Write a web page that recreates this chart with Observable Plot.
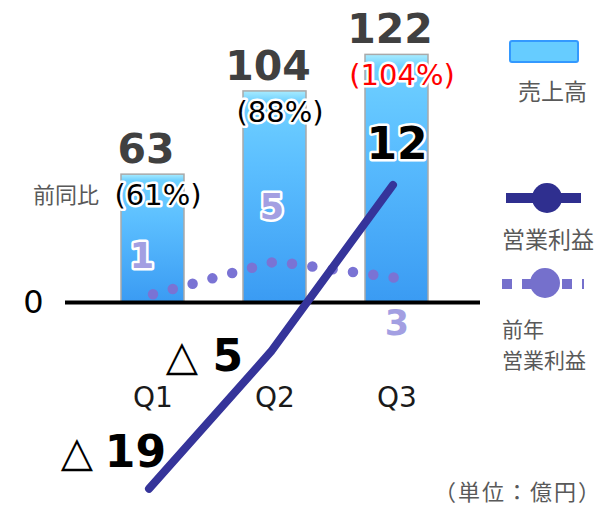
<!DOCTYPE html>
<html>
<head>
<meta charset="utf-8">
<script src="https://cdn.jsdelivr.net/npm/d3@7"></script>
<script src="https://cdn.jsdelivr.net/npm/@observablehq/plot@0.6"></script>
<style>
  body { margin: 0; background: #fff; }
  #wrap { position: relative; width: 607px; height: 507px; overflow: hidden; }
  #wrap svg { display: block; }
  .legtxt { position: absolute; font-family: "Noto Sans CJK JP", sans-serif; font-size: 23px;
            color: #595959; line-height: 26px; white-space: nowrap; }
</style>
</head>
<body>
<div id="wrap"></div>
<script>
// ---- data ----
const quarters = ["Q1", "Q2", "Q3"];
const sales = [63, 104, 122];          // 売上高 (億円)
const salesYoY = [61, 88, 104];        // 前同比 (%)
const profit = [-19, -5, 12];          // 営業利益 (億円)
const prevProfit = [1, 5, 3];          // 前年営業利益 (億円)

const legendSales = "売上高";
const legendProfit = "営業利益";
const legendPrev = ["前年", "営業利益"];
const unitLabel = "（単位：億円）";
const yoyLabel = "前同比";

// profit lines are drawn on their own (secondary) scale, expressed in sales units
const PROFIT_K = 4.83;
const PREV_K = 4.04;

const rows = quarters.map((q, i) => ({
  q, sales: sales[i], yoy: salesYoY[i], profit: profit[i], prev: prevProfit[i]
}));

const latin = "DejaVu Sans, Verdana, sans-serif";
const cjk = "Noto Sans CJK JP, sans-serif";
const halo = {stroke: "white", strokeWidth: 5, paintOrder: "stroke", strokeLinejoin: "round"};

const negLabel = (d, dxNum, dxTri, dy) => [
  Plot.text([d], {x: "q", y: r => r.profit * PROFIT_K, text: r => String(Math.abs(r.profit)),
    textAnchor: "end", dx: dxNum, dy, fontSize: 44, fontWeight: "bold", fill: "#000",
    fontFamily: latin, ...halo}),
  Plot.text([d], {x: "q", y: r => r.profit * PROFIT_K, text: () => "△",
    textAnchor: "end", dx: dxTri, dy, fontSize: 42, fill: "#000", fontFamily: latin, ...halo})
];

const prevLabel = (d, dx, dy) =>
  Plot.text([d], {x: "q", y: r => r.prev * PREV_K, text: r => String(r.prev), dx, dy,
    fontSize: 35, fontWeight: "bold", fill: "#a39fe2", fontFamily: latin, ...halo});

const plot = Plot.plot({
  width: 607,
  height: 507,
  marginLeft: 65,
  marginRight: 127,
  marginTop: 0,
  marginBottom: 0,
  x: {type: "band", domain: quarters, paddingInner: 0.48, paddingOuter: 0.427, align: 0.52, axis: null},
  y: {domain: [-101, 148.8], axis: null},
  color: {type: "identity"},
  style: {fontFamily: latin, background: "white", overflow: "visible"},
  marks: [
    Plot.barY(rows, {x: "q", y: "sales", fill: "url(#barGrad)", stroke: "#a9a9a9", strokeWidth: 1.5}),
    Plot.ruleY([0], {stroke: "#000", strokeWidth: 4}),
    Plot.line(rows, {x: "q", y: d => d.prev * PREV_K, stroke: "#7a73d4", strokeWidth: 10.5,
      strokeDasharray: "0 20.5", strokeLinecap: "round"}),
    Plot.line(rows, {x: "q", y: d => d.profit * PROFIT_K, stroke: "#35349a", strokeWidth: 8,
      strokeLinecap: "round", strokeLinejoin: "round", dx: -4}),
    // sales values
    Plot.text(rows, {x: "q", y: "sales", text: d => String(d.sales), dx: -7, dy: -25,
      fontSize: 41, fontWeight: "bold", fill: "#404040", fontFamily: latin, ...halo}),
    // year-on-year %
    Plot.text(rows, {x: "q", y: "sales", text: d => `(${d.yoy}%)`, dx: 5, dy: 21,
      fontSize: 29, fill: d => d.yoy >= 100 ? "#ff0000" : "#000000", fontFamily: latin, ...halo}),
    Plot.text([rows[0]], {x: "q", y: "sales", text: () => yoyLabel, textAnchor: "end", dx: -54, dy: 21,
      fontSize: 22, fill: "#595959", fontFamily: cjk}),
    // quarter labels
    Plot.text(quarters, {x: d => d, frameAnchor: "bottom", dy: -101, fontSize: 28, fill: "#1a1a1a", fontFamily: latin}),
    // zero label
    Plot.text([0], {y: d => d, text: d => String(d), frameAnchor: "left", textAnchor: "end", dx: -22,
      fontSize: 32, fill: "#000", fontFamily: latin}),
    // profit labels
    Plot.text(rows.filter(d => d.profit > 0), {x: "q", y: d => d.profit * PROFIT_K, text: d => String(d.profit),
      dy: -40, fontSize: 44, fontWeight: "bold", fill: "#000", fontFamily: latin, ...halo}),
    ...negLabel(rows[0], 13, -60, -36),
    ...negLabel(rows[1], -32, -77, 5),
    // previous-year profit labels
    prevLabel(rows[0], -11, -38),
    prevLabel(rows[1], -3, -54),
    prevLabel(rows[2], 0, 46)
  ]
});

// bar gradient
const svg = d3.select(plot);
const defs = svg.insert("defs", ":first-child");
const grad = defs.append("linearGradient").attr("id", "barGrad")
  .attr("x1", 0).attr("y1", 0).attr("x2", 0).attr("y2", 1);
[[0, "#a8ecff"], [0.05, "#6fd0ff"], [0.35, "#5cbfff"], [1, "#3a9bf3"]].forEach(([o, c]) =>
  grad.append("stop").attr("offset", o).attr("stop-color", c));

const wrap = document.getElementById("wrap");
wrap.appendChild(plot);

// legend (drawn beside the plot)
const leg = d3.select(wrap).append("svg")
  .attr("width", 607).attr("height", 507)
  .style("position", "absolute").style("left", "0px").style("top", "0px")
  .style("pointer-events", "none");

leg.append("rect").attr("x", 510).attr("y", 41).attr("width", 68).attr("height", 21).attr("rx", 2)
  .attr("fill", "#66ccff").attr("stroke", "#3399ff").attr("stroke-width", 2);
leg.append("line").attr("x1", 506).attr("x2", 581).attr("y1", 198).attr("y2", 198)
  .attr("stroke", "#2f2f8f").attr("stroke-width", 10);
leg.append("circle").attr("cx", 547).attr("cy", 198).attr("r", 15).attr("fill", "#2f2f8f");
leg.append("line").attr("x1", 502).attr("x2", 584).attr("y1", 284).attr("y2", 284)
  .attr("stroke", "#7570cc").attr("stroke-width", 10).attr("stroke-dasharray", "10 10");
leg.append("circle").attr("cx", 545).attr("cy", 283).attr("r", 15).attr("fill", "#7570cc");

const W = d3.select(wrap);
const addTxt = (html, left, top, extra = {}) => {
  const el = W.append("div").attr("class", "legtxt").style("top", top + "px").html(html);
  if (left !== null) el.style("left", left + "px");
  Object.entries(extra).forEach(([k, v]) => el.style(k, v));
  return el;
};
addTxt(legendSales, 518, 77);
addTxt(legendProfit, 502, 225);
addTxt(legendPrev.join("<br>"), 502, 312.5, {"font-size": "21px", "line-height": "31px"});
addTxt(unitLabel, null, 475, {right: "5px", "font-size": "22px", "line-height": "30px", "letter-spacing": "2px"});
</script>
</body>
</html>
